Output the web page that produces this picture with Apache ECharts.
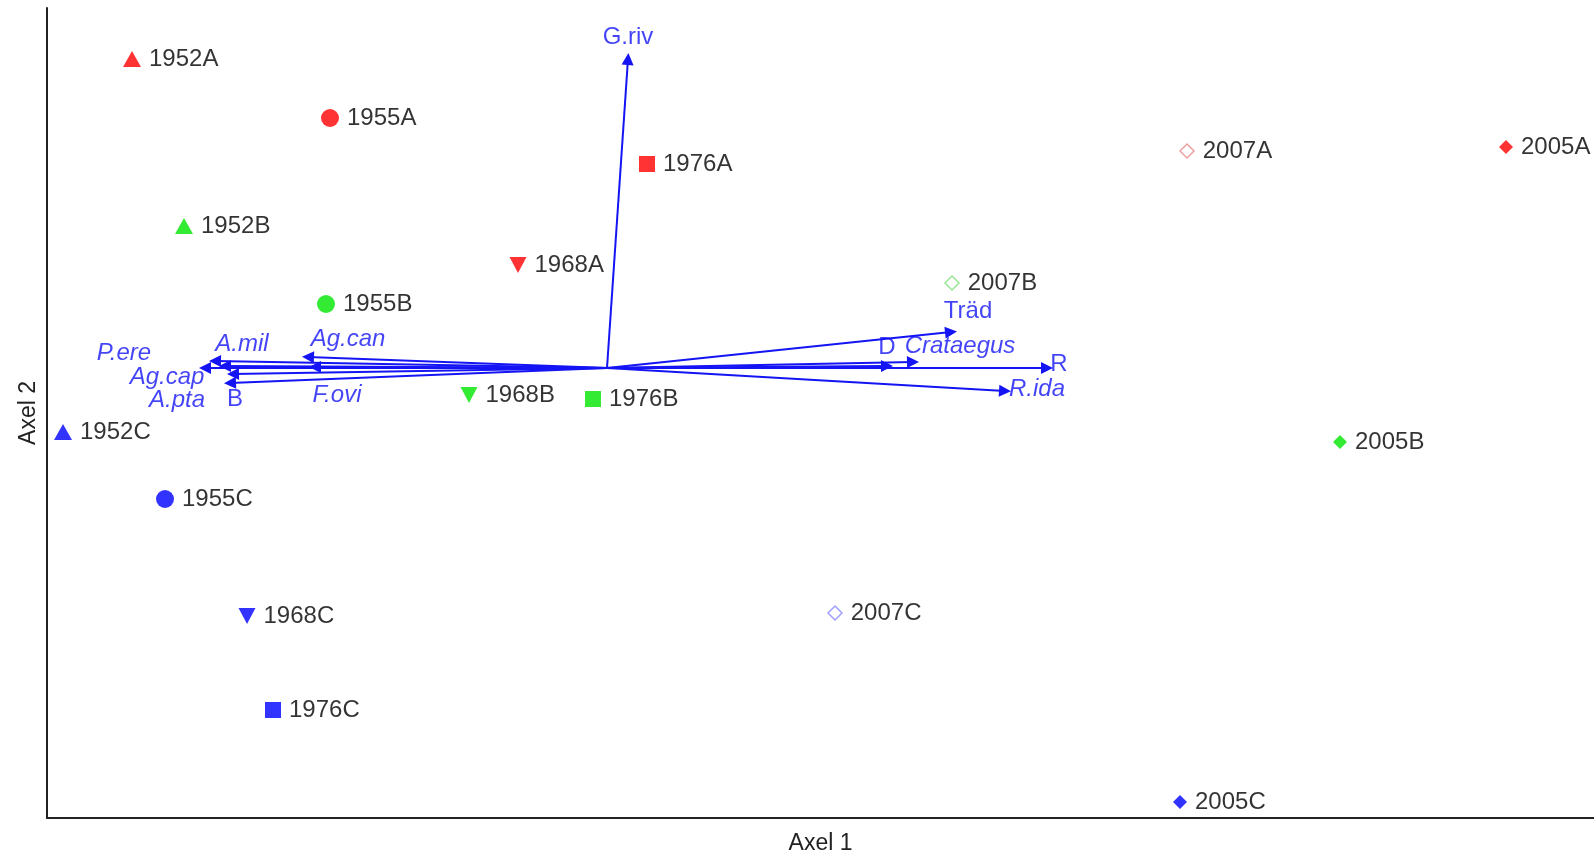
<!DOCTYPE html>
<html>
<head>
<meta charset="utf-8">
<script src="https://cdn.jsdelivr.net/npm/echarts@6/dist/echarts.min.js"></script>
<style>
html,body{margin:0;padding:0;background:#fff;overflow:hidden;}
#chart{width:1594px;height:856px;}
</style>
</head>
<body>
<div id="chart"></div>
<script>
// ---- Data (ordination scores) ----
const sampleNames = ['1952A','1955A','1976A','2007A','2005A','1952B','1968A','2007B','1955B','1968B','1976B','1952C','2005B','1955C','1968C','2007C','1976C','2005C'];
const sampleX = [-2.375,-1.385,0.200,2.900,4.495,-2.115,-0.445,1.725,-1.405,-0.690,-0.070,-2.720,3.665,-2.210,-1.800,1.140,-1.670,2.865];
const sampleY = [1.545,1.250,1.020,1.085,1.105,0.710,0.515,0.425,0.320,-0.135,-0.155,-0.320,-0.370,-0.655,-1.240,-1.225,-1.710,-2.170];

const arrowNames = ['G.riv','Träd','Crataegus','D','R','R.ida','A.mil','P.ere','Ag.cap','A.pta','B','Ag.can','F.ovi'];
const arrowX = [0.105,1.720,1.530,1.400,2.200,1.990,-1.960,-2.010,-1.910,-1.870,-1.885,-1.495,-1.460];
const arrowY = [1.545,0.180,0.030,0.010,0.000,-0.115,0.035,0.000,0.010,-0.030,-0.075,0.055,0.005];
const arrowLabelX = [0.105,1.805,1.765,1.400,2.260,2.150,-1.825,-2.415,-2.200,-2.150,-1.860,-1.295,-1.350];
const arrowLabelY = [1.655,0.285,0.110,0.105,0.020,-0.105,0.120,0.075,-0.045,-0.160,-0.155,0.145,-0.135];
const italicNames = ['Crataegus','R.ida','A.mil','P.ere','Ag.cap','A.pta','Ag.can','F.ovi'];

const axisX = {min: -2.8, max: 4.935};
const axisY = {min: -2.25, max: 1.8};
const axisNames = {x: 'Axel 1', y: 'Axel 2'};

// ---- Styling ----
const siteColor = {A: '#ff0000', B: '#00e600', C: '#0000ff'};
const openColor = {A: '#e88a8a', B: '#7ee07e', C: '#8888ff'};
const yearSymbol = {
  '1952': {symbol: 'triangle', size: [18, 16], rot: 0},
  '1955': {symbol: 'circle', size: 18, rot: 0},
  '1968': {symbol: 'triangle', size: [17, 16], rot: 180},
  '1976': {symbol: 'rect', size: 16, rot: 0},
  '2005': {symbol: 'diamond', size: 14, rot: 0},
  '2007': {symbol: 'diamond', size: 14, rot: 0}
};
const FONT = '"Liberation Sans", Arial, sans-serif';
const BLUE = '#1414f5';

const series = [];

// Arrows
series.push({
  type: 'lines',
  coordinateSystem: 'cartesian2d',
  symbol: ['none', 'triangle'],
  symbolSize: [7, 12],
  lineStyle: {color: BLUE, width: 2, opacity: 1},
  silent: true,
  z: 2,
  data: arrowNames.map((n, i) => ({name: n, coords: [[0, 0], [arrowX[i], arrowY[i]]]}))
});

// Arrow labels
series.push({
  type: 'scatter',
  symbolSize: 0,
  silent: true,
  z: 3,
  data: arrowNames.map((n, i) => ({
    name: n,
    value: [arrowLabelX[i], arrowLabelY[i]],
    label: {fontStyle: italicNames.includes(n) ? 'italic' : 'normal'}
  })),
  label: {
    show: true, position: 'inside', formatter: p => p.name,
    color: BLUE, fontSize: 24, fontFamily: FONT
  }
});

// Samples, one series per year
const years = ['1952','1955','1968','1976','2005','2007'];
years.forEach(yr => {
  const s = yearSymbol[yr];
  const data = [];
  sampleNames.forEach((n, i) => {
    if (n.slice(0, 4) !== yr) return;
    const site = n.slice(4);
    const open = yr === '2007';
    data.push({
      name: n,
      value: [sampleX[i], sampleY[i]],
      itemStyle: open
        ? {color: '#ffffff', borderColor: openColor[site], borderWidth: 1.5}
        : {color: siteColor[site]}
    });
  });
  series.push({
    type: 'scatter',
    name: yr,
    symbol: s.symbol,
    symbolSize: s.size,
    symbolRotate: s.rot,
    z: 4,
    data: data,
    label: {
      show: true, position: 'right', distance: 8,
      formatter: p => p.name, color: '#000', fontSize: 24, fontFamily: FONT
    }
  });
});

const chart = echarts.init(document.getElementById('chart'), null, {renderer: 'canvas'});
chart.setOption({
  animation: false,
  backgroundColor: '#ffffff',
  grid: {left: 47, right: 0, top: 8, bottom: 38, containLabel: false, outerBoundsMode: 'none'},
  xAxis: {
    type: 'value', min: axisX.min, max: axisX.max,
    name: axisNames.x, nameLocation: 'middle', nameGap: 14,
    nameTextStyle: {color: '#222', fontSize: 23, fontFamily: FONT, verticalAlign: 'top'},
    axisLine: {show: true, onZero: false, lineStyle: {color: '#222', width: 2}},
    axisTick: {show: false}, axisLabel: {show: false}, splitLine: {show: false}
  },
  yAxis: {
    type: 'value', min: axisY.min, max: axisY.max,
    name: axisNames.y, nameLocation: 'middle', nameGap: 7, nameRotate: 90,
    nameTextStyle: {color: '#222', fontSize: 23, fontFamily: FONT, verticalAlign: 'bottom'},
    axisLine: {show: true, onZero: false, lineStyle: {color: '#222', width: 2}},
    axisTick: {show: false}, axisLabel: {show: false}, splitLine: {show: false}
  },
  series: series
});
</script>
</body>
</html>
